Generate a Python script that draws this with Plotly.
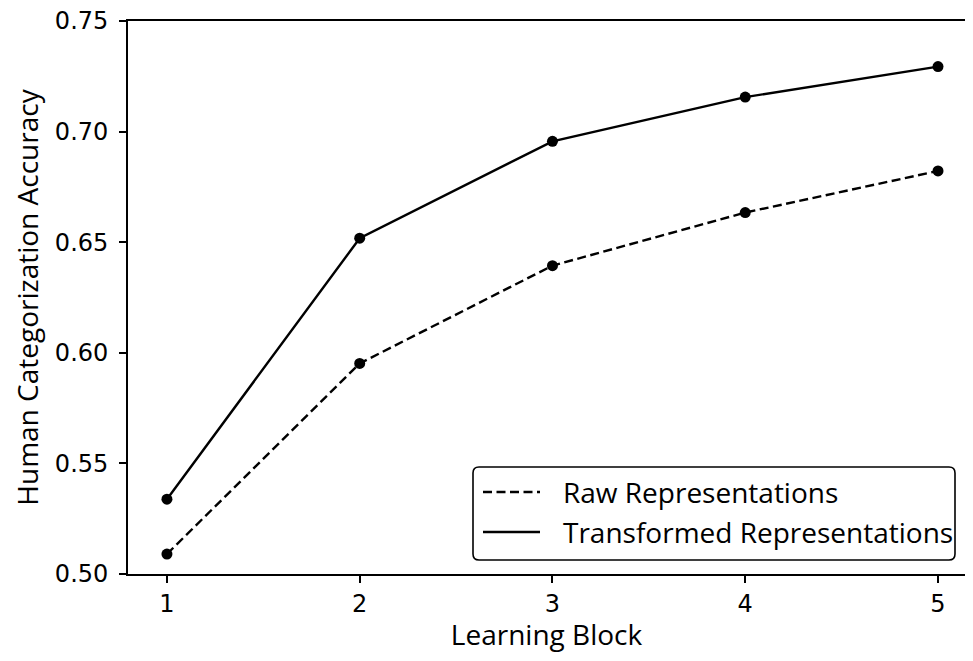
import plotly.graph_objects as go

# valeurs
blocks = [1, 2, 3, 4, 5]
raw_acc = [0.509, 0.5952, 0.6394, 0.6634, 0.6822]
transformed_acc = [0.5338, 0.6518, 0.6956, 0.7156, 0.7294]
y_ticks = [0.50, 0.55, 0.60, 0.65, 0.70, 0.75]
legend_names = ["Raw Representations", "Transformed Representations"]

RAW_DASH = "9px,4.5px"

fig = go.Figure()

fig.add_trace(go.Scatter(
    x=blocks, y=raw_acc, name=legend_names[0],
    mode="lines+markers", showlegend=False,
    line=dict(color="black", width=2.4, dash=RAW_DASH),
    marker=dict(color="black", size=11),
))
fig.add_trace(go.Scatter(
    x=blocks, y=transformed_acc, name=legend_names[1],
    mode="lines+markers", showlegend=False,
    line=dict(color="black", width=2.4),
    marker=dict(color="black", size=11),
))

tick_font = dict(family="DejaVu Sans", size=24, color="black")
label_font = dict(family="Open Sans", size=28, color="black")

# la page a une marge de 8px (body) : on travaille en pixels de la figure
W, H = 957, 645
L, T, B, R = 120, 13, 79, 0
pw, ph = W - L - R, H - T - B

def px_x(v):
    return (v - 8 - L) / pw

def px_y(v):
    return (H - B - (v - 8)) / ph

fig.update_xaxes(
    range=[0.798, 1 + (965 - 167) / 192.75], tickvals=blocks,
    ticktext=[str(b) for b in blocks],
    showgrid=False, zeroline=False,
    showline=True, linecolor="black", linewidth=1.8, mirror=True,
    ticks="outside", ticklen=7, tickwidth=1.5, tickcolor="black",
    tickfont=tick_font,
    title=dict(text="Learning Block", font=label_font, standoff=6),
)
fig.update_yaxes(
    range=[0.49999, 0.75001], tickvals=y_ticks,
    ticktext=[f"{v:.2f}" for v in y_ticks],
    showgrid=False, zeroline=False,
    showline=True, linecolor="black", linewidth=1.8,
    ticks="outside", ticklen=7, tickwidth=1.5, tickcolor="black",
    tickfont=tick_font, ticklabelstandoff=6, ticklabeloverflow="allow",
    title=dict(text="Human Categorization Accuracy", font=label_font, standoff=8),
)

# légende dessinée à la main (cadre arrondi)
x0, x1, y0, y1, r = 473, 955, 467, 560, 6
pts = [("M", x0 + r, y0), ("L", x1 - r, y0), ("Q", x1, y0, x1, y0 + r),
       ("L", x1, y1 - r), ("Q", x1, y1, x1 - r, y1), ("L", x0 + r, y1),
       ("Q", x0, y1, x0, y1 - r), ("L", x0, y0 + r), ("Q", x0, y0, x0 + r, y0)]
path = ""
for p in pts:
    cmd, coords = p[0], p[1:]
    xy = [f"{px_x(coords[i]):.5f},{px_y(coords[i+1]):.5f}" for i in range(0, len(coords), 2)]
    path += cmd + " " + " ".join(xy) + " "
path += "Z"
fig.add_shape(type="path", path=path, xref="paper", yref="paper",
              line=dict(color="black", width=1.6), fillcolor="rgba(255,255,255,0.8)")

rows = [(492, RAW_DASH), (532, "solid")]
for name, (yy, dash) in zip(legend_names, rows):
    fig.add_shape(type="line", xref="paper", yref="paper",
                  x0=px_x(483), x1=px_x(540), y0=px_y(yy), y1=px_y(yy),
                  line=dict(color="black", width=2.4, dash=dash))
    fig.add_annotation(text=name, xref="paper", yref="paper",
                       x=px_x(561), y=px_y(yy), xanchor="left", yanchor="middle",
                       showarrow=False, font=label_font)

fig.update_layout(
    width=W, height=H,
    margin=dict(l=L, r=R, t=T, b=B),
    plot_bgcolor="white", paper_bgcolor="white",
    showlegend=False,
)

fig.write_html("out.html")
